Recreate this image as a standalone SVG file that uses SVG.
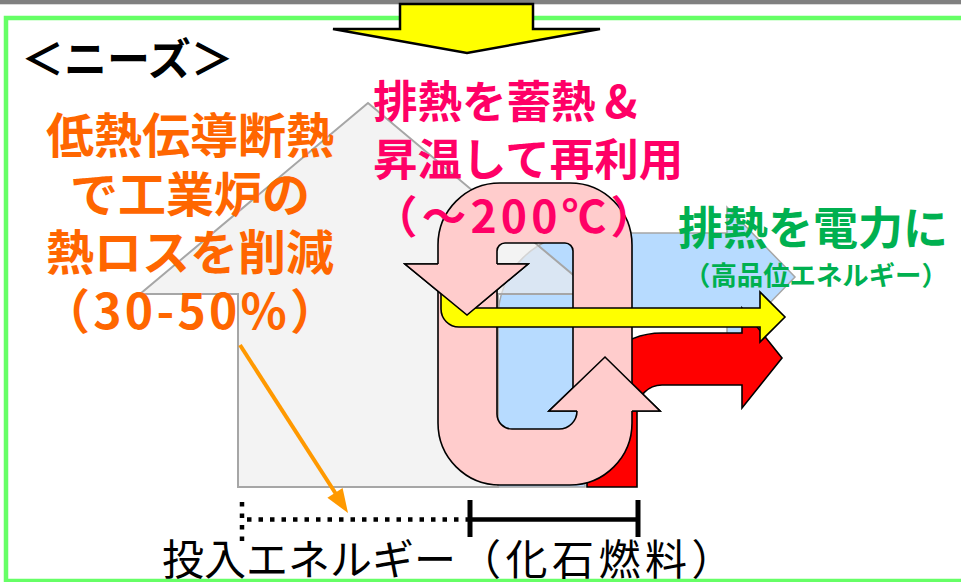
<svg xmlns="http://www.w3.org/2000/svg" width="961" height="582" viewBox="0 0 961 582">
  <style>
    .jp { font-family: "Noto Sans CJK JP", "Noto Sans", sans-serif; }
    .b { font-weight: bold; }
    .ol { stroke: #000; stroke-width: 1.6; stroke-linejoin: miter; }
    .pink { fill: #ffcccc; }
  </style>

  <!-- header bar and panel frame -->
  <rect x="0" y="0" width="961" height="4.3" fill="#808080"/>
  <rect x="6" y="18" width="970" height="563" fill="none" stroke="#66ff66" stroke-width="4.5"/>

  <!-- downward arrow into the panel -->
  <g id="down-arrow">
    <polygon points="400,4 533,4 533,29 600,29 467,53 333,29 400,29" fill="#ffff00" stroke="#000" stroke-width="2.5" stroke-linejoin="miter"/>
  </g>

  <!-- waste heat to power: blue bent arrow -->
  <g id="power-flow">
    <path d="M498,487 L498,318 A85,85 0 0 1 583,233 L727,233 L727,207 L795,277 L727,347 L727,321 L600,321 A15,15 0 0 0 585,336 L585,487 Z" fill="#b7dbff" stroke="#a6a6a6" stroke-width="1.5"/>
  </g>

  <!-- furnace (house outline) -->
  <g id="furnace">
    <polygon points="368,103 140,294 238,294 238,487 498,487 498,294 596,294" fill="#ececec" fill-opacity="0.65" stroke="#a6a6a6" stroke-width="2"/>
  </g>

  <!-- exhaust heat: red bent arrow -->
  <g id="exhaust">
    <path d="M587,487 L587,408 A75,75 0 0 1 662,333 L742,333 L742,308 L782,358 L742,408 L742,385 L662,385 A25,25 0 0 0 637,410 L637,487 Z" fill="#ff0000" class="ol"/>
  </g>

  <!-- heat storage loop -->
  <g id="storage-loop">
    <path class="pink ol" d="M438,270 L438,423 A62,62 0 0 0 500,485 L570,485 A62,62 0 0 0 632,423 L632,411 L660,411 L605,357 L549,411 L577,411 A18,18 0 0 1 559,429 L512,429 A15,15 0 0 1 497,414 L497,270 Z"/>
    <path class="pink ol" d="M573,400 L573,251 A8,8 0 0 0 565,243 L505,243 A8,8 0 0 0 497,251 L497,264 L528,264 L467,315 L405,264 L438,264 L438,245 A62,62 0 0 1 500,183 L570,183 A62,62 0 0 1 632,245 L632,400 Z"/>
  </g>

  <!-- high-grade energy: yellow arrow -->
  <g id="high-grade">
    <path d="M441,280 L441,309 A18,18 0 0 0 459,327 L760,327 L760,342 L785,317 L760,292 L760,308 L459,308 L459,280 Z" fill="#ffff00" class="ol"/>
  </g>

  <!-- arrowheads of the loop, drawn over the crossing flows -->
  <g id="loop-heads">
    <polygon class="pink" points="405,264 528,264 467,315"/>
    <polyline points="438,264 405,264 467,315 528,264 497,264" fill="none" class="ol"/>
    <polygon class="pink" points="549,411 660,411 605,357"/>
    <polyline points="577,411 549,411 605,357 660,411 632,411" fill="none" class="ol"/>
  </g>

  <!-- input energy span -->
  <g id="connectors">
    <line x1="242" y1="502" x2="242" y2="546" stroke="#000" stroke-width="4.5" stroke-dasharray="4.5 7"/>
    <line x1="247" y1="519.5" x2="470" y2="519.5" stroke="#000" stroke-width="4.5" stroke-dasharray="4.5 7"/>
    <line x1="470" y1="519.5" x2="638" y2="519.5" stroke="#000" stroke-width="4.5"/>
    <line x1="470" y1="500" x2="470" y2="537" stroke="#000" stroke-width="5"/>
    <line x1="638" y1="500" x2="638" y2="537" stroke="#000" stroke-width="5"/>
    <line x1="240" y1="345" x2="336" y2="494" stroke="#ff9900" stroke-width="4"/>
    <polygon points="348,513 342.6,487.9 327.4,497.7" fill="#ff9900"/>
  </g>

  <!-- labels -->
  <g id="needs-title">
    <text x="21" y="75" class="jp b" font-size="43" fill="#000">＜ニーズ＞</text>
  </g>
  <g id="insulation-label" class="jp b" font-size="48" fill="#ff6600" text-anchor="middle">
    <text x="190" y="153">低熱伝導断熱</text>
    <text x="190" y="212">で工業炉の</text>
    <text x="190" y="270">熱ロスを削減</text>
    <text x="190" y="329" textLength="296" lengthAdjust="spacing">（30-50%）</text>
  </g>
  <g id="storage-label" class="jp b" font-size="44.5" fill="#ff0066">
    <text x="373" y="118">排熱を蓄熱<tspan dx="9">&amp;</tspan></text>
    <text x="373" y="176">昇温して再利用</text>
    <text x="373" y="233" textLength="282" lengthAdjust="spacing">（～200℃）</text>
  </g>
  <g id="power-label" class="jp b" fill="#00b050">
    <text x="678" y="245" font-size="45">排熱を電力に</text>
    <text x="684" y="285" font-size="26.4">（高品位エネルギー）</text>
  </g>
  <g id="input-label">
    <text x="162" y="575" class="jp" font-size="42" fill="#000">投入エネルギー<tspan dx="3" letter-spacing="4.5">（化石燃料）</tspan></text>
  </g>
</svg>
